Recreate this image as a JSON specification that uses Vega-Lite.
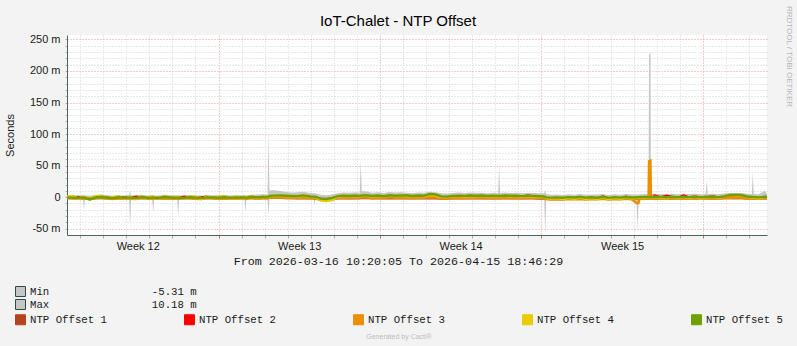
{
"$schema": "https://vega.github.io/schema/vega-lite/v6.json",
"width": 700, "height": 200,
"autosize": {"type": "none"},
"padding": {"left": 67, "top": 35, "right": 30, "bottom": 111},
"background": "#F3F3F3",
"view": {"fill": "#FFFFFF", "stroke": null},
"config": {"font": "Liberation Sans"},
"title": {"text": "IoT-Chalet - NTP Offset", "anchor": "middle", "dx": -19, "dy": 30, "font": "Liberation Sans", "fontSize": 15, "fontWeight": "normal", "color": "#000000", "offset": 6},
"data": {"values": [
{"t":"2026-03-16T10:20Z","Min":-2.6,"Max":2.8,"o1":-1.2,"o2":-0.5,"o3":-1.6,"o4":0.9,"o5":-0.3},
{"t":"2026-03-16T16:00Z","Min":-3.1,"Max":3.4,"o1":-1.6,"o2":-1.2,"o3":-2.3,"o4":1.4,"o5":-0.8},
{"t":"2026-03-16T22:00Z","Min":-3.4,"Max":2.6,"o1":-1.9,"o2":0.4,"o3":-1.4,"o4":-2.1,"o5":-1.2},
{"t":"2026-03-17T03:00Z","Min":-3.0,"Max":3.1,"o1":-1.5,"o2":-0.7,"o3":-2.6,"o4":0.6,"o5":-0.6},
{"t":"2026-03-17T04:00Z","Min":-20,"Max":2.9,"o1":-1.6,"o2":-0.9,"o3":-2.2,"o4":0.3,"o5":-0.8},
{"t":"2026-03-17T05:00Z","Min":-3.2,"Max":2.9,"o1":-1.7,"o2":-1.1,"o3":-2.0,"o4":-0.5,"o5":-1.0},
{"t":"2026-03-17T10:00Z","Min":-4.8,"Max":2.2,"o1":-2.1,"o2":-1.9,"o3":-3.3,"o4":-2.8,"o5":-3.6},
{"t":"2026-03-17T16:00Z","Min":-3.3,"Max":3.5,"o1":-1.6,"o2":-0.2,"o3":-1.9,"o4":1.5,"o5":-0.4},
{"t":"2026-03-17T22:00Z","Min":-2.8,"Max":4.1,"o1":-1.3,"o2":0.8,"o3":-1.1,"o4":1.9,"o5":0.3},
{"t":"2026-03-18T04:00Z","Min":-3.1,"Max":3.2,"o1":-1.8,"o2":-0.6,"o3":-2.4,"o4":-1.7,"o5":-0.9},
{"t":"2026-03-18T10:00Z","Min":-3.6,"Max":2.4,"o1":-2.0,"o2":-1.4,"o3":-2.9,"o4":0.2,"o5":-1.5},
{"t":"2026-03-18T16:00Z","Min":-2.9,"Max":3.0,"o1":-1.4,"o2":0.2,"o3":-1.6,"o4":1.1,"o5":-0.2},
{"t":"2026-03-18T22:00Z","Min":-3.3,"Max":2.7,"o1":-1.7,"o2":-1.0,"o3":-2.5,"o4":-2.2,"o5":-1.1},
{"t":"2026-03-19T03:00Z","Min":-3.0,"Max":3.3,"o1":-1.5,"o2":-0.4,"o3":-2.1,"o4":0.7,"o5":-0.5},
{"t":"2026-03-19T04:00Z","Min":-50,"Max":10,"o1":-1.6,"o2":-0.8,"o3":-2.3,"o4":0.2,"o5":-0.7},
{"t":"2026-03-19T05:00Z","Min":-3.4,"Max":3.0,"o1":-1.8,"o2":-1.2,"o3":-2.6,"o4":-1.4,"o5":-1.0},
{"t":"2026-03-19T10:00Z","Min":-3.7,"Max":2.5,"o1":-2.2,"o2":0.6,"o3":-3.0,"o4":-2.6,"o5":-1.6},
{"t":"2026-03-19T16:00Z","Min":-2.7,"Max":3.6,"o1":-1.2,"o2":-0.3,"o3":-1.5,"o4":1.3,"o5":0.1},
{"t":"2026-03-19T22:00Z","Min":-3.2,"Max":2.8,"o1":-1.6,"o2":-1.3,"o3":-2.2,"o4":-0.8,"o5":-0.9},
{"t":"2026-03-20T03:00Z","Min":-3.1,"Max":3.0,"o1":-1.7,"o2":0.3,"o3":-2.4,"o4":0.9,"o5":-0.6},
{"t":"2026-03-20T04:00Z","Min":-23,"Max":3.2,"o1":-1.6,"o2":-0.2,"o3":-2.2,"o4":0.6,"o5":-0.5},
{"t":"2026-03-20T05:00Z","Min":-3.0,"Max":3.1,"o1":-1.5,"o2":-0.5,"o3":-2.0,"o4":0.2,"o5":-0.7},
{"t":"2026-03-20T10:00Z","Min":-3.5,"Max":2.6,"o1":-1.9,"o2":-1.6,"o3":-2.8,"o4":-2.4,"o5":-1.3},
{"t":"2026-03-20T16:00Z","Min":-2.8,"Max":3.8,"o1":-1.3,"o2":0.9,"o3":-1.7,"o4":1.6,"o5":0.2},
{"t":"2026-03-20T22:00Z","Min":-3.4,"Max":2.9,"o1":-1.8,"o2":-0.7,"o3":-2.6,"o4":-1.9,"o5":-1.0},
{"t":"2026-03-21T04:00Z","Min":-3.2,"Max":3.1,"o1":-1.6,"o2":-1.1,"o3":-2.3,"o4":0.4,"o5":-0.8},
{"t":"2026-03-21T05:00Z","Min":-3.3,"Max":3.0,"o1":-1.7,"o2":-0.9,"o3":-2.4,"o4":0.1,"o5":-0.9},
{"t":"2026-03-21T06:00Z","Min":-30,"Max":3.0,"o1":-1.7,"o2":-1.0,"o3":-2.5,"o4":-0.3,"o5":-1.0},
{"t":"2026-03-21T07:00Z","Min":-3.4,"Max":2.9,"o1":-1.8,"o2":-1.2,"o3":-2.6,"o4":-0.7,"o5":-1.1},
{"t":"2026-03-21T12:00Z","Min":-3.0,"Max":2.4,"o1":-1.5,"o2":0.5,"o3":-1.8,"o4":-2.3,"o5":-1.4},
{"t":"2026-03-21T18:00Z","Min":-2.9,"Max":3.4,"o1":-1.4,"o2":-0.4,"o3":-1.9,"o4":1.2,"o5":-0.1},
{"t":"2026-03-22T00:00Z","Min":-3.3,"Max":2.8,"o1":-1.7,"o2":-1.5,"o3":-2.7,"o4":0.8,"o5":-0.8},
{"t":"2026-03-22T06:00Z","Min":-3.6,"Max":2.5,"o1":-2.0,"o2":-0.6,"o3":-3.1,"o4":-2.7,"o5":-1.6},
{"t":"2026-03-22T12:00Z","Min":-2.9,"Max":3.2,"o1":-1.4,"o2":0.7,"o3":-1.6,"o4":1.0,"o5":-0.3},
{"t":"2026-03-22T18:00Z","Min":-3.1,"Max":2.9,"o1":-1.6,"o2":-1.2,"o3":-2.2,"o4":-1.5,"o5":-0.7},
{"t":"2026-03-23T00:00Z","Min":-3.4,"Max":3.0,"o1":-1.8,"o2":-0.4,"o3":-2.5,"o4":0.6,"o5":-1.0},
{"t":"2026-03-23T06:00Z","Min":-3.0,"Max":3.5,"o1":-1.5,"o2":0.9,"o3":-1.9,"o4":1.4,"o5":-0.2},
{"t":"2026-03-23T12:00Z","Min":-3.5,"Max":2.6,"o1":-1.9,"o2":-1.7,"o3":-2.8,"o4":-2.0,"o5":-1.2},
{"t":"2026-03-23T18:00Z","Min":-2.8,"Max":3.3,"o1":-1.3,"o2":-0.2,"o3":-1.7,"o4":0.9,"o5":-0.4},
{"t":"2026-03-24T00:00Z","Min":-3.2,"Max":2.9,"o1":-1.6,"o2":-1.0,"o3":-2.3,"o4":-1.6,"o5":-0.9},
{"t":"2026-03-24T03:00Z","Min":-3.1,"Max":3.0,"o1":-1.5,"o2":0.3,"o3":-2.0,"o4":0.5,"o5":-0.6},
{"t":"2026-03-24T04:00Z","Min":-23,"Max":3.1,"o1":-1.6,"o2":0.1,"o3":-2.2,"o4":0.2,"o5":-0.7},
{"t":"2026-03-24T05:00Z","Min":-3.3,"Max":2.8,"o1":-1.7,"o2":-0.8,"o3":-2.4,"o4":-0.9,"o5":-0.9},
{"t":"2026-03-24T10:00Z","Min":-3.0,"Max":3.6,"o1":-1.2,"o2":1.1,"o3":-1.5,"o4":1.3,"o5":0.4},
{"t":"2026-03-24T16:00Z","Min":-3.4,"Max":4.0,"o1":-1.8,"o2":-0.9,"o3":-2.6,"o4":-1.8,"o5":-0.6},
{"t":"2026-03-24T22:00Z","Min":-3.0,"Max":4.4,"o1":-1.5,"o2":0.4,"o3":-1.9,"o4":0.8,"o5":0.3},
{"t":"2026-03-25T03:00Z","Min":-3.2,"Max":4.2,"o1":-1.4,"o2":-0.3,"o3":-2.0,"o4":0.6,"o5":0.5},
{"t":"2026-03-25T04:00Z","Min":-28,"Max":103,"o1":-1.2,"o2":0.2,"o3":-1.6,"o4":1.0,"o5":0.9},
{"t":"2026-03-25T05:00Z","Min":-2.4,"Max":10.5,"o1":-1.0,"o2":0.8,"o3":-0.9,"o4":1.6,"o5":1.8},
{"t":"2026-03-25T10:00Z","Min":-2.2,"Max":10.8,"o1":-0.8,"o2":1.2,"o3":-0.4,"o4":2.1,"o5":2.4},
{"t":"2026-03-25T16:00Z","Min":-2.0,"Max":9.8,"o1":-1.1,"o2":0.6,"o3":-0.7,"o4":1.7,"o5":2.6},
{"t":"2026-03-25T22:00Z","Min":-2.5,"Max":8.0,"o1":-1.4,"o2":1.4,"o3":-1.0,"o4":2.3,"o5":2.2},
{"t":"2026-03-26T04:00Z","Min":-2.1,"Max":7.2,"o1":-1.6,"o2":0.3,"o3":-1.3,"o4":1.2,"o5":1.9},
{"t":"2026-03-26T10:00Z","Min":-2.6,"Max":7.8,"o1":-1.8,"o2":-0.5,"o3":-1.5,"o4":0.6,"o5":1.4},
{"t":"2026-03-26T16:00Z","Min":-2.3,"Max":8.4,"o1":-1.5,"o2":1.8,"o3":-0.8,"o4":2.5,"o5":2.8},
{"t":"2026-03-26T22:00Z","Min":-2.7,"Max":6.9,"o1":-1.9,"o2":0.2,"o3":-1.6,"o4":0.9,"o5":1.5},
{"t":"2026-03-27T00:00Z","Min":-2.9,"Max":6.5,"o1":-2.0,"o2":-0.4,"o3":-1.8,"o4":0.4,"o5":1.0},
{"t":"2026-03-27T03:00Z","Min":-2.8,"Max":6.2,"o1":-2.0,"o2":-0.2,"o3":-1.9,"o4":0.2,"o5":0.8},
{"t":"2026-03-27T04:00Z","Min":-11,"Max":6.0,"o1":-2.1,"o2":-0.5,"o3":-2.0,"o4":0.0,"o5":0.6},
{"t":"2026-03-27T05:00Z","Min":-3.0,"Max":5.8,"o1":-2.2,"o2":-0.7,"o3":-2.1,"o4":-0.3,"o5":0.4},
{"t":"2026-03-27T10:00Z","Min":-6.5,"Max":3.8,"o1":-3.4,"o2":-2.6,"o3":-4.1,"o4":-5.2,"o5":-2.3},
{"t":"2026-03-27T16:00Z","Min":-7.2,"Max":3.2,"o1":-3.8,"o2":-3.3,"o3":-4.6,"o4":-6.1,"o5":-2.9},
{"t":"2026-03-27T22:00Z","Min":-6.0,"Max":4.0,"o1":-3.1,"o2":-2.1,"o3":-3.7,"o4":-4.8,"o5":-1.6},
{"t":"2026-03-28T04:00Z","Min":-3.1,"Max":6.3,"o1":-1.9,"o2":0.4,"o3":-1.2,"o4":1.1,"o5":1.6},
{"t":"2026-03-28T10:00Z","Min":-2.5,"Max":7.4,"o1":-1.6,"o2":1.3,"o3":-0.6,"o4":2.2,"o5":2.4},
{"t":"2026-03-28T16:00Z","Min":-2.8,"Max":6.8,"o1":-1.9,"o2":0.2,"o3":-1.4,"o4":1.4,"o5":1.9},
{"t":"2026-03-28T22:00Z","Min":-2.4,"Max":7.6,"o1":-1.5,"o2":1.6,"o3":-0.9,"o4":2.0,"o5":2.7},
{"t":"2026-03-29T03:00Z","Min":-2.6,"Max":7.0,"o1":-1.7,"o2":0.5,"o3":-1.1,"o4":1.5,"o5":2.0},
{"t":"2026-03-29T04:00Z","Min":-2.5,"Max":60,"o1":-1.6,"o2":0.8,"o3":-0.8,"o4":1.8,"o5":2.3},
{"t":"2026-03-29T05:00Z","Min":-2.3,"Max":9.5,"o1":-1.5,"o2":1.1,"o3":-0.6,"o4":2.1,"o5":2.5},
{"t":"2026-03-29T10:00Z","Min":-2.2,"Max":8.8,"o1":-1.4,"o2":1.9,"o3":-0.5,"o4":2.6,"o5":2.9},
{"t":"2026-03-29T16:00Z","Min":-2.7,"Max":7.1,"o1":-1.8,"o2":0.3,"o3":-1.3,"o4":1.0,"o5":1.8},
{"t":"2026-03-29T22:00Z","Min":-2.4,"Max":7.9,"o1":-1.6,"o2":1.5,"o3":-0.7,"o4":2.2,"o5":2.6},
{"t":"2026-03-30T04:00Z","Min":-2.9,"Max":6.6,"o1":-2.0,"o2":0.1,"o3":-1.6,"o4":0.8,"o5":1.5},
{"t":"2026-03-30T10:00Z","Min":-2.3,"Max":8.2,"o1":-1.5,"o2":2.4,"o3":-0.4,"o4":2.7,"o5":3.0},
{"t":"2026-03-30T16:00Z","Min":-2.6,"Max":7.3,"o1":-1.8,"o2":0.6,"o3":-1.0,"o4":1.6,"o5":2.2},
{"t":"2026-03-30T22:00Z","Min":-2.2,"Max":7.8,"o1":-1.4,"o2":1.2,"o3":-0.6,"o4":2.4,"o5":2.8},
{"t":"2026-03-31T04:00Z","Min":-2.5,"Max":7.0,"o1":-1.7,"o2":2.2,"o3":-0.9,"o4":1.8,"o5":2.5},
{"t":"2026-03-31T10:00Z","Min":-2.8,"Max":6.4,"o1":-1.9,"o2":0.4,"o3":-1.4,"o4":1.2,"o5":1.9},
{"t":"2026-03-31T16:00Z","Min":-2.4,"Max":7.5,"o1":-1.6,"o2":1.0,"o3":-0.8,"o4":2.1,"o5":2.7},
{"t":"2026-03-31T22:00Z","Min":-2.6,"Max":6.9,"o1":-1.8,"o2":0.2,"o3":-1.2,"o4":1.4,"o5":2.2},
{"t":"2026-04-01T04:00Z","Min":-2.2,"Max":8.6,"o1":-1.5,"o2":1.8,"o3":-0.3,"o4":3.1,"o5":4.9},
{"t":"2026-04-01T10:00Z","Min":-2.5,"Max":7.9,"o1":-1.7,"o2":0.9,"o3":-0.7,"o4":2.4,"o5":4.2},
{"t":"2026-04-01T16:00Z","Min":-3.0,"Max":6.1,"o1":-2.2,"o2":-0.6,"o3":-1.7,"o4":0.5,"o5":1.3},
{"t":"2026-04-01T22:00Z","Min":-3.4,"Max":5.8,"o1":-2.4,"o2":-0.9,"o3":-2.1,"o4":0.2,"o5":0.8},
{"t":"2026-04-02T04:00Z","Min":-2.9,"Max":6.7,"o1":-2.0,"o2":0.8,"o3":-1.3,"o4":1.3,"o5":1.9},
{"t":"2026-04-02T10:00Z","Min":-2.6,"Max":7.2,"o1":-1.7,"o2":1.6,"o3":-0.9,"o4":2.0,"o5":2.4},
{"t":"2026-04-02T16:00Z","Min":-2.8,"Max":6.5,"o1":-1.9,"o2":0.3,"o3":-1.4,"o4":1.1,"o5":2.0},
{"t":"2026-04-02T22:00Z","Min":-2.4,"Max":7.4,"o1":-1.6,"o2":2.4,"o3":-0.8,"o4":1.9,"o5":2.6},
{"t":"2026-04-03T04:00Z","Min":-2.7,"Max":6.8,"o1":-1.8,"o2":0.6,"o3":-1.2,"o4":1.5,"o5":2.2},
{"t":"2026-04-03T10:00Z","Min":-2.5,"Max":7.1,"o1":-1.6,"o2":1.4,"o3":-0.9,"o4":2.2,"o5":2.5},
{"t":"2026-04-03T16:00Z","Min":-2.9,"Max":6.3,"o1":-2.0,"o2":0.1,"o3":-1.5,"o4":0.9,"o5":1.8},
{"t":"2026-04-03T22:00Z","Min":-2.6,"Max":6.9,"o1":-1.8,"o2":1.0,"o3":-1.1,"o4":1.7,"o5":2.3},
{"t":"2026-04-04T03:00Z","Min":-2.8,"Max":6.6,"o1":-1.9,"o2":0.5,"o3":-1.3,"o4":1.3,"o5":2.0},
{"t":"2026-04-04T04:00Z","Min":-2.7,"Max":51,"o1":-1.8,"o2":0.7,"o3":-1.1,"o4":1.5,"o5":2.1},
{"t":"2026-04-04T05:00Z","Min":-2.9,"Max":6.4,"o1":-1.9,"o2":0.4,"o3":-1.4,"o4":1.2,"o5":1.9},
{"t":"2026-04-04T10:00Z","Min":-2.5,"Max":7.3,"o1":-1.7,"o2":1.9,"o3":-0.8,"o4":2.3,"o5":2.7},
{"t":"2026-04-04T16:00Z","Min":-2.8,"Max":6.7,"o1":-1.9,"o2":0.6,"o3":-1.3,"o4":1.4,"o5":2.1},
{"t":"2026-04-04T22:00Z","Min":-2.4,"Max":7.0,"o1":-1.6,"o2":1.5,"o3":-0.9,"o4":2.0,"o5":2.4},
{"t":"2026-04-05T04:00Z","Min":-2.9,"Max":6.2,"o1":-2.0,"o2":0.2,"o3":-1.5,"o4":1.0,"o5":1.7},
{"t":"2026-04-05T10:00Z","Min":-2.6,"Max":6.9,"o1":-1.8,"o2":2.6,"o3":-1.0,"o4":1.8,"o5":2.3},
{"t":"2026-04-05T16:00Z","Min":-2.8,"Max":6.5,"o1":-1.9,"o2":0.7,"o3":-1.2,"o4":1.3,"o5":2.0},
{"t":"2026-04-05T22:00Z","Min":-3.0,"Max":6.0,"o1":-2.1,"o2":0.0,"o3":-1.6,"o4":0.7,"o5":1.5},
{"t":"2026-04-06T03:00Z","Min":-3.2,"Max":6.1,"o1":-2.2,"o2":-0.3,"o3":-1.9,"o4":0.4,"o5":1.0},
{"t":"2026-04-06T04:00Z","Min":-60,"Max":11,"o1":-2.3,"o2":-0.6,"o3":-2.3,"o4":0.0,"o5":0.6},
{"t":"2026-04-06T05:00Z","Min":-4.6,"Max":4.8,"o1":-2.3,"o2":-1.5,"o3":-3.2,"o4":-1.2,"o5":-0.4},
{"t":"2026-04-06T10:00Z","Min":-5.2,"Max":3.6,"o1":-2.5,"o2":-2.2,"o3":-3.8,"o4":-2.4,"o5":-0.8},
{"t":"2026-04-06T16:00Z","Min":-4.8,"Max":4.2,"o1":-2.1,"o2":-1.3,"o3":-3.4,"o4":-1.6,"o5":-0.3},
{"t":"2026-04-06T22:00Z","Min":-5.4,"Max":3.4,"o1":-2.6,"o2":-2.8,"o3":-4.0,"o4":-3.1,"o5":-1.0},
{"t":"2026-04-07T04:00Z","Min":-4.6,"Max":4.5,"o1":-2.2,"o2":-0.9,"o3":-3.1,"o4":-1.1,"o5":0.1},
{"t":"2026-04-07T10:00Z","Min":-5.0,"Max":3.8,"o1":-2.4,"o2":-2.4,"o3":-3.6,"o4":-2.7,"o5":-0.6},
{"t":"2026-04-07T16:00Z","Min":-4.4,"Max":4.9,"o1":-2.0,"o2":0.3,"o3":-2.9,"o4":-0.6,"o5":0.4},
{"t":"2026-04-07T22:00Z","Min":-5.1,"Max":3.7,"o1":-2.5,"o2":-1.9,"o3":-3.7,"o4":-2.5,"o5":-0.7},
{"t":"2026-04-08T04:00Z","Min":-4.7,"Max":4.3,"o1":-2.3,"o2":-1.2,"o3":-3.2,"o4":-1.4,"o5":-0.2},
{"t":"2026-04-08T10:00Z","Min":-4.9,"Max":4.0,"o1":-2.4,"o2":-2.6,"o3":-3.5,"o4":-2.9,"o5":-0.9},
{"t":"2026-04-08T16:00Z","Min":-4.2,"Max":5.1,"o1":-1.9,"o2":0.8,"o3":-2.6,"o4":-0.3,"o5":0.6},
{"t":"2026-04-08T22:00Z","Min":-5.3,"Max":3.5,"o1":-2.6,"o2":-2.3,"o3":-3.9,"o4":-2.8,"o5":-1.1},
{"t":"2026-04-09T04:00Z","Min":-4.5,"Max":4.6,"o1":-2.1,"o2":-1.0,"o3":-3.0,"o4":-1.0,"o5":0.0},
{"t":"2026-04-09T10:00Z","Min":-5.0,"Max":3.9,"o1":-2.4,"o2":-2.7,"o3":-3.6,"o4":-2.6,"o5":-0.8},
{"t":"2026-04-09T16:00Z","Min":-4.3,"Max":5.0,"o1":-2.0,"o2":0.5,"o3":-2.8,"o4":-0.5,"o5":0.3},
{"t":"2026-04-09T22:00Z","Min":-4.8,"Max":4.2,"o1":-2.3,"o2":-1.7,"o3":-3.3,"o4":-1.9,"o5":-0.5},
{"t":"2026-04-10T03:00Z","Min":-9.8,"Max":4.1,"o1":-2.2,"o2":-1.2,"o3":-9.5,"o4":-1.4,"o5":-0.3},
{"t":"2026-04-10T04:00Z","Min":-52,"Max":4.0,"o1":-2.3,"o2":-1.4,"o3":-9.6,"o4":-1.6,"o5":-0.4},
{"t":"2026-04-10T05:00Z","Min":-10.0,"Max":4.3,"o1":-2.1,"o2":-1.0,"o3":-9.4,"o4":-1.2,"o5":-0.2},
{"t":"2026-04-10T06:00Z","Min":-4.6,"Max":4.4,"o1":-2.2,"o2":-0.8,"o3":-3.1,"o4":-1.0,"o5":-0.1},
{"t":"2026-04-10T12:00Z","Min":-4.4,"Max":4.8,"o1":-2.0,"o2":-1.9,"o3":-2.8,"o4":-0.6,"o5":0.2},
{"t":"2026-04-10T15:30Z","Min":-4.2,"Max":5.2,"o1":-1.9,"o2":-0.5,"o3":-2.5,"o4":-0.3,"o5":0.4},
{"t":"2026-04-10T16:00Z","Min":-3.8,"Max":225,"o1":-1.8,"o2":-0.9,"o3":57,"o4":0.0,"o5":0.3},
{"t":"2026-04-10T17:30Z","Min":-3.8,"Max":230,"o1":-1.8,"o2":-1.2,"o3":58,"o4":-0.2,"o5":0.2},
{"t":"2026-04-10T18:00Z","Min":-4.1,"Max":5.0,"o1":-1.9,"o2":-1.4,"o3":-2.6,"o4":-0.4,"o5":0.1},
{"t":"2026-04-10T22:00Z","Min":-4.0,"Max":5.4,"o1":-1.7,"o2":2.6,"o3":-2.2,"o4":0.3,"o5":0.5},
{"t":"2026-04-11T04:00Z","Min":-3.6,"Max":5.0,"o1":-1.8,"o2":-0.4,"o3":-2.0,"o4":-0.9,"o5":0.2},
{"t":"2026-04-11T10:00Z","Min":-3.9,"Max":4.6,"o1":-2.0,"o2":2.2,"o3":-2.5,"o4":-1.8,"o5":-0.3},
{"t":"2026-04-11T16:00Z","Min":-3.4,"Max":5.3,"o1":-1.6,"o2":0.3,"o3":-1.7,"o4":0.8,"o5":0.6},
{"t":"2026-04-11T22:00Z","Min":-3.8,"Max":4.7,"o1":-1.9,"o2":-1.1,"o3":-2.3,"o4":-1.5,"o5":-0.2},
{"t":"2026-04-12T04:00Z","Min":-3.5,"Max":5.2,"o1":-1.7,"o2":2.4,"o3":-1.9,"o4":0.2,"o5":0.4},
{"t":"2026-04-12T10:00Z","Min":-3.7,"Max":4.8,"o1":-1.9,"o2":-0.6,"o3":-2.2,"o4":-1.3,"o5":0.0},
{"t":"2026-04-12T16:00Z","Min":-3.3,"Max":5.5,"o1":-1.5,"o2":0.9,"o3":-1.6,"o4":1.1,"o5":0.8},
{"t":"2026-04-12T22:00Z","Min":-3.9,"Max":4.5,"o1":-2.0,"o2":-1.4,"o3":-2.4,"o4":-2.0,"o5":-0.4},
{"t":"2026-04-13T03:00Z","Min":-3.6,"Max":5.0,"o1":-1.8,"o2":0.2,"o3":-2.0,"o4":-0.6,"o5":0.3},
{"t":"2026-04-13T04:00Z","Min":-3.5,"Max":25,"o1":-1.7,"o2":0.4,"o3":-1.9,"o4":-0.3,"o5":0.4},
{"t":"2026-04-13T05:00Z","Min":-3.7,"Max":4.9,"o1":-1.8,"o2":0.0,"o3":-2.1,"o4":-0.8,"o5":0.2},
{"t":"2026-04-13T10:00Z","Min":-3.4,"Max":5.4,"o1":-1.6,"o2":1.3,"o3":-1.7,"o4":0.6,"o5":0.7},
{"t":"2026-04-13T16:00Z","Min":-3.8,"Max":4.6,"o1":-1.9,"o2":-1.2,"o3":-2.3,"o4":-1.7,"o5":-0.1},
{"t":"2026-04-13T22:00Z","Min":-3.2,"Max":5.8,"o1":-1.5,"o2":0.6,"o3":-1.4,"o4":1.6,"o5":1.2},
{"t":"2026-04-14T04:00Z","Min":-3.0,"Max":6.6,"o1":-1.4,"o2":1.1,"o3":-1.0,"o4":3.1,"o5":3.6},
{"t":"2026-04-14T10:00Z","Min":-3.3,"Max":6.2,"o1":-1.6,"o2":0.4,"o3":-1.5,"o4":2.6,"o5":4.0},
{"t":"2026-04-14T16:00Z","Min":-3.1,"Max":6.4,"o1":-1.5,"o2":2.0,"o3":-1.2,"o4":2.9,"o5":3.4},
{"t":"2026-04-14T22:00Z","Min":-3.6,"Max":5.2,"o1":-1.8,"o2":-0.5,"o3":-2.1,"o4":0.4,"o5":1.1},
{"t":"2026-04-15T03:00Z","Min":-3.7,"Max":5.0,"o1":-1.9,"o2":-0.8,"o3":-2.2,"o4":-0.7,"o5":0.3},
{"t":"2026-04-15T04:00Z","Min":-3.6,"Max":38,"o1":-1.8,"o2":-0.6,"o3":-2.1,"o4":-0.5,"o5":0.4},
{"t":"2026-04-15T05:00Z","Min":-3.8,"Max":4.8,"o1":-1.9,"o2":-1.0,"o3":-2.3,"o4":-1.1,"o5":0.2},
{"t":"2026-04-15T10:00Z","Min":-4.0,"Max":4.4,"o1":-2.0,"o2":-1.6,"o3":-2.5,"o4":-2.0,"o5":-0.3},
{"t":"2026-04-15T16:30Z","Min":-3.5,"Max":10,"o1":-1.7,"o2":0.2,"o3":-1.8,"o4":0.5,"o5":0.6},
{"t":"2026-04-15T18:46Z","Min":-3.7,"Max":4.9,"o1":-1.8,"o2":-0.7,"o3":-2.1,"o4":-0.6,"o5":0.1}
]},
"encoding": {
  "x": {"field": "t", "type": "temporal",
    "scale": {"type": "utc", "domain": [{"year": 2026, "month": 3, "date": 16, "hours": 10, "minutes": 20, "seconds": 5, "utc": true}, {"year": 2026, "month": 4, "date": 15, "hours": 18, "minutes": 46, "seconds": 29, "utc": true}]},
    "axis": {
      "tickCount": {"interval": "day", "step": 1},
      "grid": true,
      "gridColor": {"condition": {"test": "utcday(datum.value) == 1", "value": "#E39E9E"}, "value": "#D3D3D3"},
      "gridDash": [1, 2],
      "labelExpr": "utcday(datum.value) == 4 ? 'Week ' + utcFormat(datum.value, '%V') : ''",
      "labelOffset": 11.5,
      "labelFlush": false,
      "labelOverlap": false,
      "labelBound": false,
      "labelFont": "Liberation Sans",
      "labelFontSize": 11,
      "labelColor": "#1A1A1A",
      "labelPadding": 2,
      "ticks": true,
      "tickSize": 3,
      "tickColor": {"condition": {"test": "utcday(datum.value) == 1", "value": "#C07070"}, "value": "#B0B0B0"},
      "domainColor": "#4A665C",
      "title": "From 2026-03-16 10:20:05 To 2026-04-15 18:46:29",
      "titleFont": "Liberation Mono",
      "titleFontSize": 11.7,
      "titleFontWeight": "normal",
      "titleColor": "#1A1A1A",
      "titlePadding": 4,
      "titleX": 331,
      "titleAlign": "center"
    }
  }
},
"layer": [
  {
    "transform": [{"fold": ["Max", "Min"], "as": ["band", "v"]}],
    "mark": {"type": "area", "interpolate": "linear", "clip": true},
    "encoding": {
      "y": {"field": "v", "type": "quantitative", "stack": null,
        "scale": {"domain": [-60, 257], "nice": false, "zero": false},
        "axis": {
          "values": [-50,-40,-30,-20,-10,0,10,20,30,40,50,60,70,80,90,100,110,120,130,140,150,160,170,180,190,200,210,220,230,240,250],
          "labelExpr": "datum.value % 50 == 0 ? (datum.value == 0 ? '0' : datum.value + ' m') : ''",
          "labelOverlap": false,
          "labelFont": "Liberation Sans",
          "labelFontSize": 11,
          "labelColor": "#1A1A1A",
          "labelPadding": 5,
          "grid": true,
          "gridColor": {"condition": {"test": "datum.value % 50 == 0", "value": "#E39E9E"}, "value": "#D3D3D3"},
          "gridDash": [1, 2],
          "ticks": true,
          "tickSize": 2,
          "tickColor": "#B0B0B0",
          "domainColor": "#4A665C",
          "title": "Seconds",
          "titleFont": "Liberation Sans",
          "titleFontSize": 11,
          "titleFontWeight": "normal",
          "titleColor": "#1A1A1A",
          "titleX": -57,
          "titleBaseline": "middle"
        }
      },
      "y2": {"datum": 0},
      "color": {"field": "band", "type": "nominal",
        "scale": {"domain": ["Min", "Max"], "range": ["#C6C6C6", "#C6C6C6"]},
        "legend": {
          "orient": "none", "legendX": -52, "legendY": 251,
          "direction": "vertical", "title": null, "padding": 0,
          "symbolType": "square", "symbolSize": 100,
          "symbolStrokeColor": "#2C4D43", "symbolStrokeWidth": 1,
          "labelExpr": "datum.label == 'Min' ? 'Min\u00a0\u00a0\u00a0\u00a0\u00a0\u00a0\u00a0\u00a0\u00a0\u00a0\u00a0\u00a0\u00a0\u00a0\u00a0\u00a0-5.31 m' : 'Max\u00a0\u00a0\u00a0\u00a0\u00a0\u00a0\u00a0\u00a0\u00a0\u00a0\u00a0\u00a0\u00a0\u00a0\u00a0\u00a010.18 m'",
          "labelFont": "Liberation Mono", "labelFontSize": 10.7, "labelColor": "#1A1A1A",
          "labelOffset": 4, "labelLimit": 400, "rowPadding": -2,
          "encode": {"symbols": {"update": {"stroke": {"value": "#2C4D43"}, "strokeWidth": {"value": 1}, "opacity": {"value": 1}}}}
        }
      }
    }
  },
  {
    "transform": [{"fold": ["o1", "o2", "o3", "o4", "o5"], "as": ["series", "v"]}],
    "mark": {"type": "line", "strokeWidth": 2.4, "interpolate": "linear", "clip": true},
    "encoding": {
      "y": {"field": "v", "type": "quantitative",
        "axis": {
          "orient": "right", "labels": false, "ticks": false, "domain": false, "grid": false,
          "title": "RRDTOOL / TOBI OETIKER",
          "titleFont": "Liberation Sans", "titleFontSize": 8, "titleFontWeight": "normal",
          "titleColor": "#B5B5B5", "titleAngle": 90, "titleX": 21, "titleY": 21,
          "titleAlign": "center", "titleBaseline": "middle"
        }
      },
      "stroke": {"field": "series", "type": "nominal",
        "scale": {"domain": ["o1", "o2", "o3", "o4", "o5"], "range": ["#B3441E", "#FF0000", "#EA8F00", "#EACC00", "#6EA100"]},
        "legend": {
          "orient": "none", "legendX": -52, "legendY": 279,
          "direction": "horizontal", "columns": 5, "padding": 0,
          "symbolType": "square", "symbolSize": 100,
          "symbolStrokeColor": "#2C4D43", "symbolStrokeWidth": 1,
          "labelExpr": "'NTP Offset ' + substring(datum.label, 1)",
          "labelFont": "Liberation Mono", "labelFontSize": 10.7, "labelColor": "#1A1A1A",
          "labelOffset": 4, "labelLimit": 400, "columnPadding": 75,
          "title": "Generated by Cacti®", "titleOrient": "bottom", "titleAnchor": "middle",
          "titleFont": "Liberation Sans", "titleFontSize": 7, "titleFontWeight": "normal",
          "titleColor": "#BDBDBD", "titlePadding": 6,
          "encode": {"symbols": {"update": {"fill": {"scale": "stroke", "field": "value"}, "stroke": {"value": "#2C4D43"}, "strokeWidth": {"value": 1}, "opacity": {"value": 1}}}}
        }
      }
    }
  }
],
"resolve": {"axis": {"y": "independent"}}
}
